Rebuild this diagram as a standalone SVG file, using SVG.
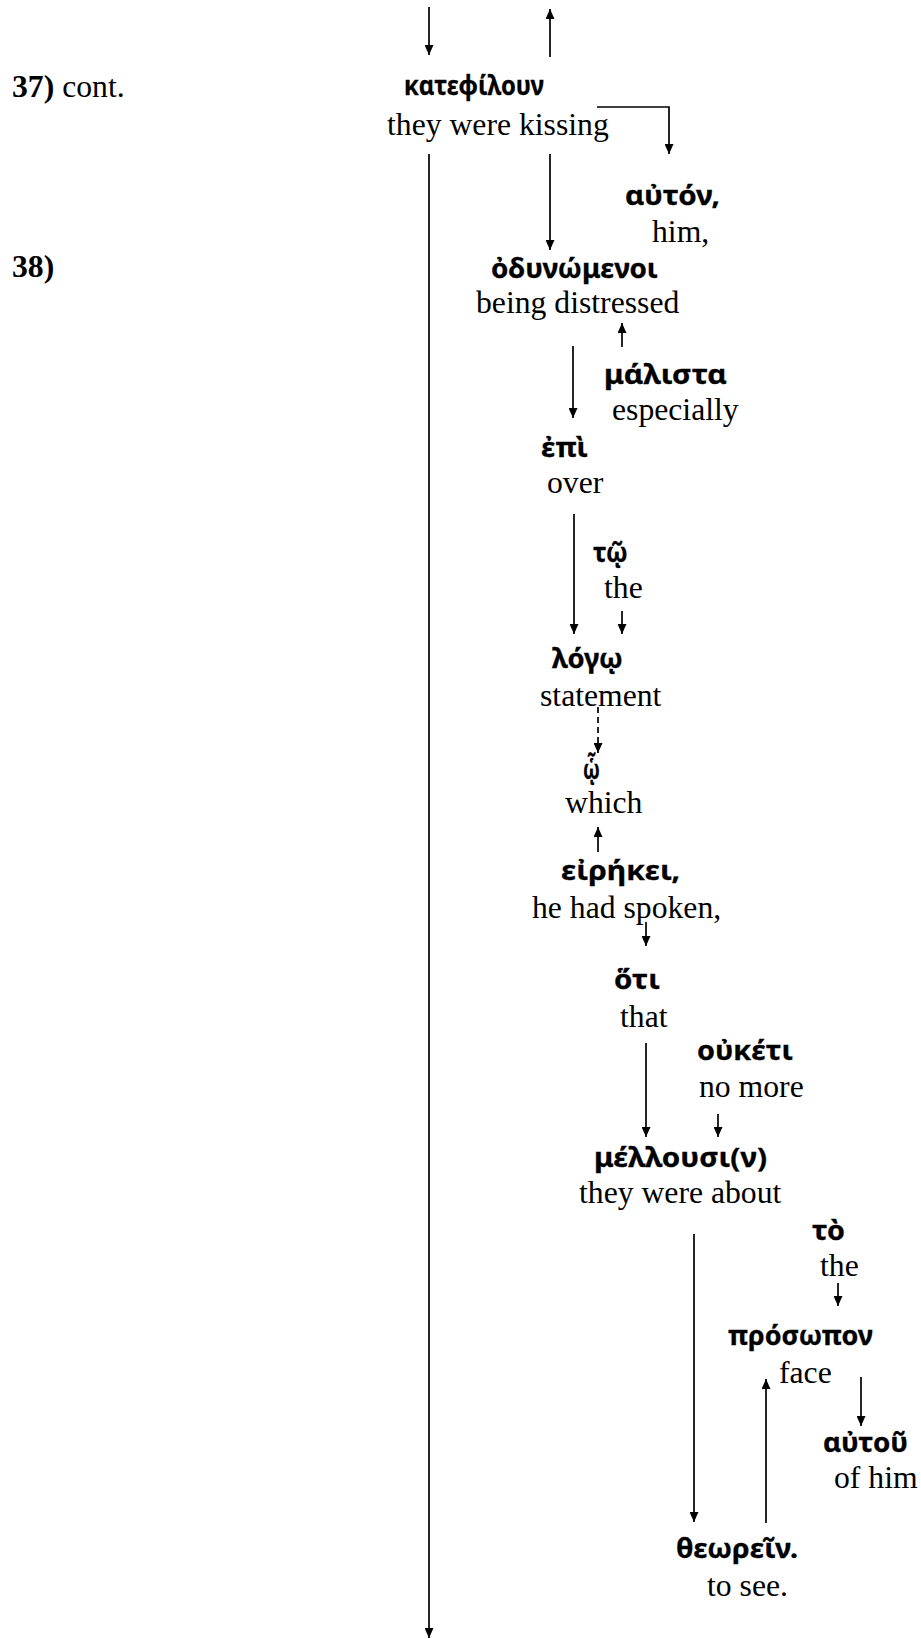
<svg xmlns="http://www.w3.org/2000/svg" width="921" height="1639" viewBox="0 0 921 1639">
  <style>
    .gk { font-family: "Noto Sans", "DejaVu Sans", sans-serif; font-weight: 700; font-size: 26px; fill: #000; stroke: #000; stroke-width: 0.3; }
    .en { font-family: "Liberation Serif", "Times New Roman", serif; font-size: 31.7px; fill: #000; }
    .vn { font-weight: 700; }
    .c { stroke: #000; stroke-width: 1.7; fill: none; marker-end: url(#ah); }
    .dash { stroke-dasharray: 6 4; }
  </style>
  <defs>
    <marker id="ah" markerUnits="userSpaceOnUse" markerWidth="10" markerHeight="9" refX="10" refY="4.5" orient="auto">
      <path d="M0,0 L10,4.5 L0,9 z" fill="#000"/>
    </marker>
  </defs>
  <rect width="921" height="1639" fill="#fff"/>

  <!-- verse numbers -->
  <g id="verse37"><text class="en" x="12" y="97"><tspan class="vn">37)</tspan> cont.</text></g>
  <g id="verse38"><text class="en vn" x="12" y="277">38)</text></g>

  <!-- connectors -->
  <g id="connectors">
    <line class="c" x1="429" y1="7" x2="429" y2="55"/>
    <line class="c" x1="550" y1="57" x2="550" y2="9"/>
    <polyline class="c" points="597,107 669,107 669,154"/>
    <line class="c" x1="429" y1="154" x2="429" y2="1638"/>
    <line class="c" x1="550" y1="154" x2="550" y2="250"/>
    <line class="c" x1="622" y1="347" x2="622" y2="323"/>
    <line class="c" x1="573" y1="346" x2="573" y2="418"/>
    <line class="c" x1="574" y1="514" x2="574" y2="634"/>
    <line class="c" x1="622" y1="611" x2="622" y2="634"/>
    <line class="c dash" x1="598" y1="707" x2="598" y2="753"/>
    <line class="c" x1="598" y1="852" x2="598" y2="827"/>
    <line class="c" x1="646" y1="922" x2="646" y2="946"/>
    <line class="c" x1="646" y1="1043" x2="646" y2="1137"/>
    <line class="c" x1="718" y1="1114" x2="718" y2="1137"/>
    <line class="c" x1="694" y1="1234" x2="694" y2="1522"/>
    <line class="c" x1="838" y1="1283" x2="838" y2="1306"/>
    <line class="c" x1="766" y1="1523" x2="766" y2="1379"/>
    <line class="c" x1="861" y1="1377" x2="861" y2="1426"/>
  </g>

  <!-- word nodes: Greek form above, gloss below -->
  <g id="n-katefiloun">
    <text class="gk" x="404" y="95" textLength="140" lengthAdjust="spacingAndGlyphs">κατεφίλουν</text>
    <text class="en" x="387" y="135">they were kissing</text>
  </g>
  <g id="n-auton">
    <text class="gk" x="625" y="205" textLength="95" lengthAdjust="spacingAndGlyphs">αὐτόν,</text>
    <text class="en" x="652" y="242">him,</text>
  </g>
  <g id="n-odunomenoi">
    <text class="gk" x="491" y="278" textLength="167" lengthAdjust="spacingAndGlyphs">ὀδυνώμενοι</text>
    <text class="en" x="476" y="313">being distressed</text>
  </g>
  <g id="n-malista">
    <text class="gk" x="604" y="384" textLength="123" lengthAdjust="spacingAndGlyphs">μάλιστα</text>
    <text class="en" x="612" y="420">especially</text>
  </g>
  <g id="n-epi">
    <text class="gk" x="541" y="457" textLength="47" lengthAdjust="spacingAndGlyphs">ἐπὶ</text>
    <text class="en" x="547" y="493">over</text>
  </g>
  <g id="n-to-dat">
    <text class="gk" x="593" y="562" textLength="35" lengthAdjust="spacingAndGlyphs">τῷ</text>
    <text class="en" x="604" y="598">the</text>
  </g>
  <g id="n-logo">
    <text class="gk" x="552" y="668" textLength="71" lengthAdjust="spacingAndGlyphs">λόγῳ</text>
    <text class="en" x="540" y="706">statement</text>
  </g>
  <g id="n-ho">
    <text class="gk" x="583" y="779" textLength="17" lengthAdjust="spacingAndGlyphs">ᾧ</text>
    <text class="en" x="565" y="813">which</text>
  </g>
  <g id="n-eirekei">
    <text class="gk" x="561" y="880" textLength="119" lengthAdjust="spacingAndGlyphs">εἰρήκει,</text>
    <text class="en" x="532" y="918">he had spoken,</text>
  </g>
  <g id="n-hoti">
    <text class="gk" x="614" y="989" textLength="46" lengthAdjust="spacingAndGlyphs">ὅτι</text>
    <text class="en" x="620" y="1027">that</text>
  </g>
  <g id="n-ouketi">
    <text class="gk" x="697" y="1060" textLength="96" lengthAdjust="spacingAndGlyphs">οὐκέτι</text>
    <text class="en" x="699" y="1097">no more</text>
  </g>
  <g id="n-mellousi">
    <text class="gk" x="594" y="1167" textLength="173" lengthAdjust="spacingAndGlyphs">μέλλουσι(ν)</text>
    <text class="en" x="579" y="1203">they were about</text>
  </g>
  <g id="n-to-acc">
    <text class="gk" x="812" y="1240" textLength="33" lengthAdjust="spacingAndGlyphs">τὸ</text>
    <text class="en" x="820" y="1276">the</text>
  </g>
  <g id="n-prosopon">
    <text class="gk" x="728" y="1345" textLength="145" lengthAdjust="spacingAndGlyphs">πρόσωπον</text>
    <text class="en" x="779" y="1383">face</text>
  </g>
  <g id="n-autou">
    <text class="gk" x="823" y="1452" textLength="85" lengthAdjust="spacingAndGlyphs">αὐτοῦ</text>
    <text class="en" x="834" y="1488">of him</text>
  </g>
  <g id="n-theorein">
    <text class="gk" x="676" y="1558" textLength="122" lengthAdjust="spacingAndGlyphs">θεωρεῖν.</text>
    <text class="en" x="707" y="1596">to see.</text>
  </g>
</svg>
